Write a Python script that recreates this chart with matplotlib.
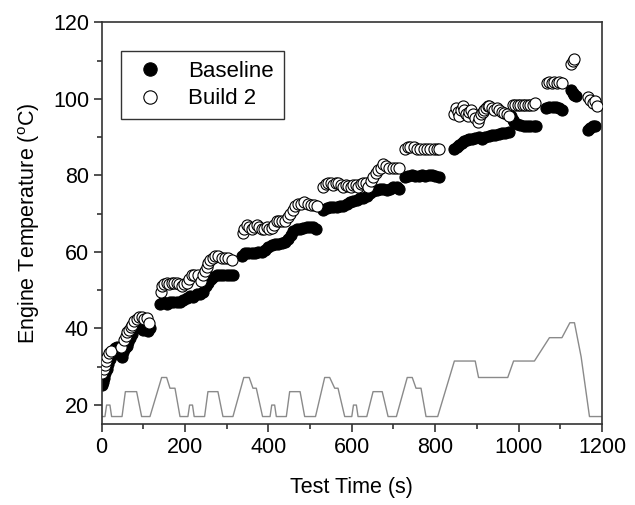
import numpy as np
import matplotlib
matplotlib.use("Agg")
import matplotlib.pyplot as plt
from matplotlib.ticker import MultipleLocator

plt.rcParams['font.family'] = ['Liberation Sans', 'DejaVu Sans']
plt.rcParams['mathtext.fontset'] = 'custom'
plt.rcParams['mathtext.rm'] = 'Liberation Sans'

# baseline engine temperature (filled circles)
base_t = [0, 3, 6, 9, 12, 16, 20, 24, 28, 32, 36, 40, 44, 48, 52, 56, 60, 64, 68, 72,
          76, 80, 84, 88, 92, 96, 100, 104, 108, 112, 116,
          140, 148, 156, 164, 172, 180, 188, 196, 204, 212, 220, 228, 236, 244, 250,
          256, 262, 268, 276, 284, 292, 300, 308, 316,
          336, 344, 352, 360, 368, 376, 384, 392, 400, 408, 416, 424, 432, 440, 448,
          454, 460, 468, 476, 484, 492, 500, 508, 514,
          532, 540, 548, 556, 564, 572, 580, 588, 596, 604, 612, 620, 628, 636, 644,
          652, 660, 668, 676, 684, 692, 700, 708, 714,
          728, 736, 744, 752, 760, 768, 776, 784, 792, 800, 808,
          846, 852, 858, 864, 870, 876, 882, 888, 896, 904, 912, 920, 928, 936, 944,
          952, 960, 968, 976, 982, 986, 990, 996, 1004, 1012, 1020, 1028, 1036, 1042,
          1066, 1074, 1082, 1090, 1098, 1104,
          1126, 1130, 1134, 1138,
          1166, 1172, 1178, 1184]
base_T = [25.3, 26, 27, 28.3, 29.5, 30.8, 32, 33, 34, 35, 35.2, 34.5, 33.5, 32.5, 33.8,
          35, 35.5, 36.5, 37.5, 38.5, 39.5, 40, 41, 41.5, 40.8, 40, 39.5, 40.5, 40, 39.3, 40,
          46.5, 46.8, 46.5, 46.8, 47, 46.8, 47, 47.5, 48, 48.5, 48.3, 49, 49, 49.5, 51,
          52, 53, 53.5, 54, 54, 54, 54, 54, 54,
          59, 59.6, 59.8, 59.8, 59.8, 60, 60, 60.5, 61.3, 61.8, 62, 62, 62.3, 62.5, 63.5,
          64.5, 65.5, 66, 66, 66.3, 66.5, 66.5, 66.5, 66,
          71, 71.5, 71.7, 71.8, 71.8, 72, 72, 72.5, 73, 73.3, 73.5, 74, 74.2, 74.5, 75.5,
          76, 76.3, 76.5, 76.5, 76.3, 76.5, 77, 77, 76.5,
          79.5, 79.8, 80, 79.8, 79.8, 80, 79.8, 80, 80, 79.8, 79.5,
          87, 87.5, 88, 88.5, 89, 89.2, 89.5, 89.5, 89.8, 90, 89.5, 90, 90.3, 90.5, 90.5,
          90.8, 91, 91, 91.2, 95.5, 94.5, 94, 93.5, 93.2, 93, 93, 93, 93, 93,
          97.5, 97.8, 97.8, 97.8, 97.5, 97,
          102.3, 101.5, 101, 100.8,
          91.8, 92.3, 92.8, 93]

# build 2 engine temperature (open circles)
b2_t = [2, 5, 8, 11, 14, 18, 22, 46, 54, 58, 62, 66, 70, 74, 78, 84, 90, 96, 102, 108, 114,
        142, 146, 150, 156, 162, 168, 174, 180, 186, 192, 198, 204, 210, 216, 222, 230,
        238, 244, 248, 252, 256, 260, 266, 272, 280, 288, 296, 304, 312,
        338, 342, 348, 354, 360, 366, 372, 378, 384, 390, 396, 402, 408, 414, 420, 426,
        432, 440, 446, 452, 458, 464, 470, 478, 486, 494, 502, 510, 516,
        532, 538, 544, 550, 556, 562, 568, 574, 580, 586, 592, 598, 604, 610, 616, 622,
        628, 634, 640, 646, 652, 658, 664, 670, 676, 682, 690, 698, 706, 714,
        728, 734, 740, 748, 756, 764, 772, 780, 788, 796, 804, 810,
        846, 850, 854, 858, 862, 866, 870, 874, 878, 882, 886, 890, 896, 902, 906, 910,
        914, 918, 922, 926, 930, 936, 942, 948, 954, 960, 966, 972, 978,
        986, 992, 998, 1004, 1010, 1016, 1022, 1028, 1034, 1040,
        1068, 1074, 1080, 1086, 1092, 1098, 1104,
        1126, 1130, 1134,
        1166, 1172, 1178, 1184, 1188]
b2_T = [28.5, 29.5, 30.5, 31.5, 32.5, 33.5, 34, 35.2, 37, 38, 39, 39.5, 40.5, 41, 42,
        42.5, 43, 43, 42.5, 42.8, 41.5,
        49.5, 51, 51.5, 52, 51.5, 52, 51.8, 52, 51.5, 51, 51.5, 52, 53, 54, 54, 54,
        52.5, 54, 55, 56, 57, 58, 58.5, 59, 59, 58.5, 58.5, 58.5, 58,
        65, 66, 67, 66.5, 66, 66.5, 67, 66.5, 66, 66, 66.5, 66, 66.2, 67, 68, 68,
        68, 68, 69, 70, 71, 72, 72.5, 72.5, 73, 72.5, 72.3, 72.3, 72,
        77, 77.8, 78, 78, 77.5, 78, 78, 77.5, 77, 77.5, 77.2, 77, 77.5, 77.5, 77, 77.8,
        78, 78, 77, 78.5, 79.5, 80.5, 81.5, 82, 83, 82.5, 82, 82, 82, 82,
        87, 87.5, 87.3, 87.3, 87, 87, 87, 87, 87, 87, 87, 86.8,
        96, 97.5, 96.5, 95.5, 97, 98, 97, 96, 95.5, 96.5, 97, 96, 95, 94, 95, 96,
        96.5, 97, 97.5, 98, 98, 97.5, 97, 97.5, 97, 96.5, 96.3, 96, 95.5,
        98.5, 98.5, 98.5, 98.5, 98.5, 98.5, 98.5, 98.5, 98.5, 99,
        104, 104.5, 104, 104.3, 104, 104.5, 104.2,
        109, 110, 110.3,
        100.5, 99.8, 99, 99.5, 98]

# drive cycle profile (grey line, scaled onto the temperature axis)
prof_t = [0, 8, 12, 20, 24, 49, 57, 84, 96, 116, 144, 156, 164, 176, 188,
          207, 211, 218, 222, 247, 255, 279, 291, 315, 341, 354, 363, 371, 386,
          404, 408, 415, 419, 443, 451, 476, 487, 513, 535, 547, 559, 567, 583,
          600, 604, 611, 615, 636, 651, 673, 687, 707, 733, 745, 754, 766, 778,
          806, 846, 896, 904, 974, 988, 1038, 1074, 1104, 1123, 1134, 1150, 1170, 1200]
prof_T = [17, 17, 20, 20, 17, 17, 23.5, 23.5, 17, 17, 27.2, 27.2, 24.4, 24.4, 17,
          17, 20, 20, 17, 17, 23.5, 23.5, 17, 17, 27.2, 27.2, 24.4, 24.4, 17,
          17, 20, 20, 17, 17, 23.5, 23.5, 17, 17, 27.2, 27.2, 24.4, 24.4, 17,
          17, 20, 20, 17, 17, 23.5, 23.5, 17, 17, 27.2, 27.2, 24.4, 24.4, 17,
          17, 31.5, 31.5, 27.2, 27.2, 31.5, 31.5, 37.6, 37.6, 41.5, 41.5, 32.6, 17, 17]

fig = plt.figure(figsize=(6.35, 5.05), dpi=100)
ax = fig.add_axes([0.160, 0.160, 0.788, 0.796])

ax.plot(prof_t, prof_T, color='#8a8a8a', lw=1.0, zorder=1)
ax.plot(base_t, base_T, 'o', color='black', ms=8, mew=0.8, label='Baseline', zorder=2)
ax.plot(b2_t, b2_T, 'o', mfc='white', mec='black', ms=8, mew=0.8, label='Build 2', zorder=3)

ax.set_xlim(0, 1200)
ax.set_ylim(15, 120)
ax.xaxis.set_major_locator(MultipleLocator(200))
ax.xaxis.set_minor_locator(MultipleLocator(100))
ax.yaxis.set_major_locator(MultipleLocator(20))
ax.yaxis.set_minor_locator(MultipleLocator(10))
ax.tick_params(which='major', direction='out', length=6, width=1.1, labelsize=15.5,
               colors='#222222', labelcolor='black', pad=3)
ax.tick_params(which='minor', direction='out', length=3.5, width=1.1, colors='#222222')
for sp in ax.spines.values():
    sp.set_linewidth(1.2)
    sp.set_color('#333333')

ax.set_xlabel('Test Time (s)', fontsize=15.5, labelpad=14)
ax.set_ylabel(r'Engine Temperature ($^{\mathrm{o}}$C)', fontsize=15.5, labelpad=8)

leg = ax.legend(loc='upper left', bbox_to_anchor=(0.038, 0.929), borderaxespad=0,
                fontsize=16, frameon=True, fancybox=False, edgecolor='black',
                handletextpad=0.9, labelspacing=0.3, markerscale=1.2,
                borderpad=0.45, handlelength=1.7)
leg.get_frame().set_linewidth(1.0)

fig.savefig('out.png', dpi=100)
